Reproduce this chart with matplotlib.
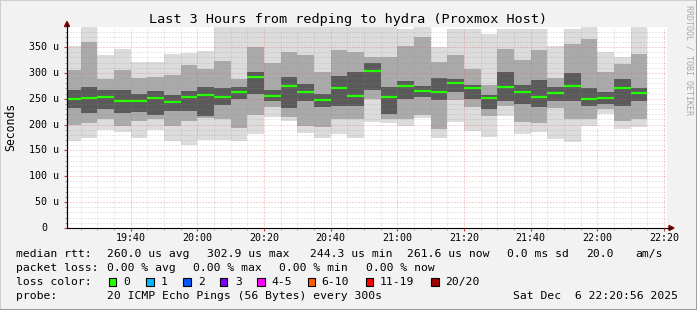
import matplotlib
matplotlib.use("Agg")
import matplotlib.pyplot as plt
import matplotlib.dates as mdates
from matplotlib.patches import Rectangle, Polygon
from matplotlib.lines import Line2D
import pandas as pd

plt.rcParams["font.family"] = ["DejaVu Sans Mono"]

# 时间窗口 (最近 3 小时)
t_start = pd.Timestamp("2025-12-06 19:20:56")
t_end = pd.Timestamp("2025-12-06 22:20:56")

# 每个 5 分钟采样的结束时间
step_end = pd.date_range("2025-12-06 19:25", "2025-12-06 22:15", freq="5min")

# 烟雾图: 每个采样的 ping 分布 (单位: 微秒)
ping_max = [352, 400, 335, 347, 322, 321, 337, 339, 343, 400, 400, 400, 400, 400, 400, 400, 400, 400,
            400, 400, 386, 400, 350, 386, 386, 376, 386, 386, 386, 353, 386, 400, 340, 330, 400]
ping_hi2 = [305, 360, 289, 305, 290, 292, 296, 315, 308, 324, 289, 350, 320, 340, 334, 301, 344, 340,
            330, 330, 352, 370, 321, 334, 308, 276, 347, 325, 345, 291, 357, 366, 302, 317, 337]
ping_hi1 = [268, 272, 267, 268, 260, 266, 258, 266, 273, 270, 272, 302, 268, 292, 279, 259, 294, 302,
            320, 272, 285, 275, 291, 289, 276, 257, 301, 276, 287, 272, 300, 270, 263, 289, 270]
median = [250, 252, 254, 246, 245, 252, 244, 254, 257, 254, 264, 293, 256, 275, 264, 248, 271, 256,
          303, 253, 275, 266, 264, 281, 270, 252, 272, 264, 254, 262, 274, 249, 251, 270, 262]
ping_lo1 = [232, 222, 231, 222, 224, 218, 227, 227, 216, 238, 250, 260, 245, 233, 245, 234, 237, 236,
            268, 221, 250, 253, 248, 264, 250, 230, 246, 240, 234, 245, 245, 237, 240, 237, 245]
ping_lo2 = [200, 204, 211, 198, 207, 211, 197, 208, 212, 211, 194, 218, 235, 215, 197, 195, 211, 211,
            250, 211, 211, 218, 192, 247, 235, 216, 236, 206, 204, 232, 211, 211, 230, 208, 211]
ping_min = [168, 175, 190, 185, 175, 190, 168, 160, 170, 170, 168, 182, 215, 208, 184, 175, 182, 174,
            206, 203, 198, 212, 175, 205, 188, 176, 217, 181, 185, 172, 167, 197, 220, 191, 195]

y_ticks = [0, 50, 100, 150, 200, 250, 300, 350]
y_labels = ["0", "50 u", "100 u", "150 u", "200 u", "250 u", "300 u", "350 u"]

loss_labels = ["0", "1", "2", "3", "4-5", "6-10", "11-19", "20/20"]
loss_colors = ["#26ff00", "#00b8ff", "#0059ff", "#7e00ff", "#ff00ff", "#ff5a00", "#ff0000", "#a10000"]

W, H = 697, 310
fig = plt.figure(figsize=(W / 100, H / 100), dpi=100, facecolor="#f2f2f2")
ax = fig.add_axes([67 / W, 1 - 228 / H, 600 / W, 201 / H])
ax.set_facecolor("white")

x0 = mdates.date2num(step_end - pd.Timedelta(minutes=5))
x1 = mdates.date2num(step_end)
width = x1 - x0

# 烟雾: 外层浅灰, 内层深灰
bands = [(ping_min, ping_max, "#dcdcdc"),
         (ping_lo2, ping_hi2, "#aaaaaa"),
         (ping_lo1, ping_hi1, "#5a5a5a")]
for lo, hi, c in bands:
    ax.bar(x0, [h - l for l, h in zip(lo, hi)], bottom=lo, width=width, align="edge",
           color=c, linewidth=0, zorder=1)

# 中位数
ax.hlines(median, x0, x1, colors="#26ff00", linewidth=1.6, zorder=3)

ax.set_xlim(mdates.date2num(t_start), mdates.date2num(t_end))
ax.set_ylim(0, 389)

ax.set_axisbelow(False)
ax.xaxis.set_major_locator(mdates.MinuteLocator(byminute=[0, 20, 40]))
ax.xaxis.set_minor_locator(mdates.MinuteLocator(byminute=range(0, 60, 5)))
ax.xaxis.set_major_formatter(mdates.DateFormatter("%H:%M"))
ax.set_yticks(y_ticks)
ax.set_yticks(range(0, 390, 10), minor=True)
ax.set_yticklabels([])
for v, lab in zip(y_ticks, y_labels):
    off = -8 if v else -20
    ax.annotate(lab, xy=(0, v), xycoords=("axes fraction", "data"), xytext=(off, 0),
                textcoords="offset pixels", ha="right", va="center", fontsize=7.2)

dots = (0, (1, 2))
ax.grid(which="minor", color="#8f8f8f", alpha=0.4, linewidth=0.72, linestyle=dots)
ax.grid(which="major", color="#de5050", alpha=0.5, linewidth=0.72, linestyle=dots)

ax.tick_params(axis="x", which="major", labelsize=7.2, length=2, pad=1.5, color="#aa4444")
ax.tick_params(axis="x", which="minor", length=1.5, color="#888888")
ax.tick_params(axis="y", which="major", length=2, color="#aa4444")
ax.tick_params(axis="y", which="minor", length=1.5, color="#888888")

for s in ["top", "right"]:
    ax.spines[s].set_visible(False)
for s in ["left", "bottom"]:
    ax.spines[s].set_color("black")
    ax.spines[s].set_linewidth(0.8)


def px(x, y):
    return (x / W, 1 - y / H)


# 坐标轴箭头
fig.add_artist(Line2D([67 / W, 67 / W], [1 - 228 / H, 1 - 24 / H], color="black", lw=0.8))
fig.add_artist(Line2D([667 / W, 670 / W], [1 - 228 / H, 1 - 228 / H], color="black", lw=0.8))
fig.add_artist(Polygon([px(64.5, 26.5), px(69.5, 26.5), px(67, 21.5)], closed=True,
                       color="#7f0000", transform=fig.transFigure))
fig.add_artist(Polygon([px(669, 225.5), px(669, 230.5), px(674, 228)], closed=True,
                       color="#7f0000", transform=fig.transFigure))

# 边框阴影
fig.add_artist(Line2D([0, 0], [0, 1], color="#cfcfcf", lw=1.5))
fig.add_artist(Line2D([0, 1], [1, 1], color="#cfcfcf", lw=1.5))
fig.add_artist(Line2D([1, 1], [0, 1], color="#9e9e9e", lw=2.2))
fig.add_artist(Line2D([0, 1], [0, 0], color="#9e9e9e", lw=2.2))

fig.text(348 / W, 1 - 19 / H, "Last 3 Hours from redping to hydra (Proxmox Host)",
         ha="center", va="center", fontsize=9.7)
fig.text(10.5 / W, 1 - 127 / H, "Seconds", rotation=90, ha="center", va="center", fontsize=8.3)
fig.text(689 / W, 1 - 60 / H, "RRDTOOL / TOBI OETIKER", rotation=270, ha="center", va="center",
         fontsize=6, color="#a8a8a8")

fs = 8.2
rows = [
    (254, [(16, "median rtt:"), (107, "260.0 us avg"), (207, "302.9 us max"), (310, "244.3 us min"),
           (407, "261.6 us now"), (507, "0.0 ms sd"), (586, "20.0"), (635, "am/s")]),
    (268, [(16, "packet loss:"), (107, "0.00 % avg"), (193, "0.00 % max"), (279, "0.00 % min"),
           (366, "0.00 % now")]),
    (282, [(16, "loss color:")]),
    (296, [(16, "probe:"), (107, "20 ICMP Echo Pings (56 Bytes) every 300s"),
           (513, "Sat Dec  6 22:20:56 2025")]),
]
for y, items in rows:
    for x, s in items:
        fig.text(x / W, 1 - y / H, s, ha="left", va="center", fontsize=fs)

box_x = [108.5, 146, 183, 219.5, 257, 307.5, 365.5, 431]
text_x = [123, 161, 198, 235, 271, 321, 380, 445]
for bx, tx, lab, c in zip(box_x, text_x, loss_labels, loss_colors):
    fig.add_artist(Rectangle((bx / W, 1 - 286 / H), 7.5 / W, 8 / H, facecolor=c,
                             edgecolor="black", linewidth=0.8, transform=fig.transFigure))
    fig.text(tx / W, 1 - 282 / H, lab, ha="left", va="center", fontsize=fs)

fig.savefig("out.png", dpi=100, facecolor=fig.get_facecolor())
